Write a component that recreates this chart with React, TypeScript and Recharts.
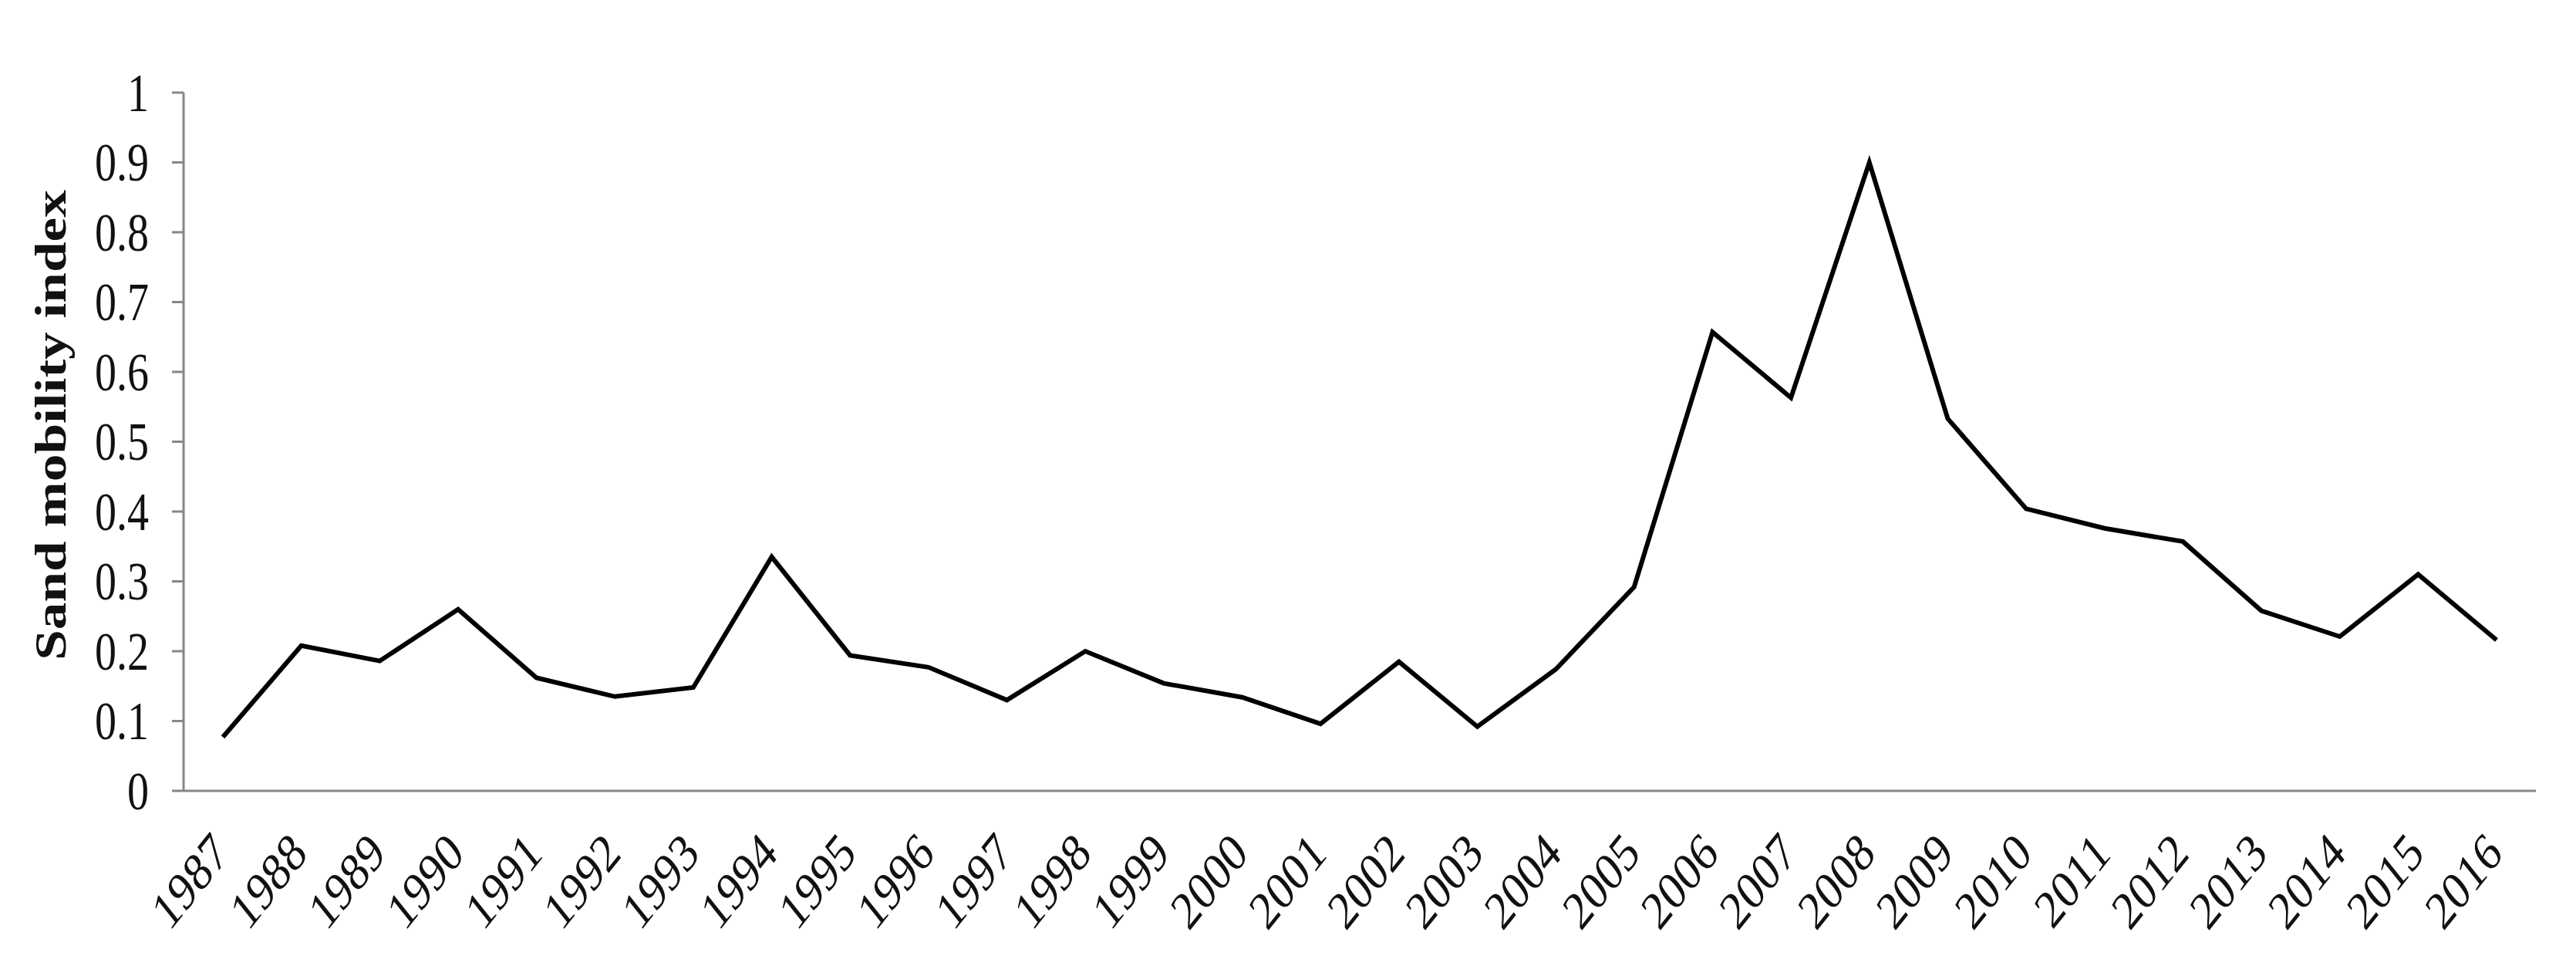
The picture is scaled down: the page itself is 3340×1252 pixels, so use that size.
import React from 'react';
import { Line, LineChart, XAxis, YAxis } from 'recharts';

const years = [
  '1987', '1988', '1989', '1990', '1991', '1992', '1993', '1994', '1995', '1996',
  '1997', '1998', '1999', '2000', '2001', '2002', '2003', '2004', '2005', '2006',
  '2007', '2008', '2009', '2010', '2011', '2012', '2013', '2014', '2015', '2016',
];

const sandMobility = [
  0.077, 0.208, 0.186, 0.26, 0.162, 0.135, 0.148, 0.335, 0.194, 0.177,
  0.13, 0.2, 0.154, 0.134, 0.096, 0.185, 0.092, 0.174, 0.292, 0.657,
  0.563, 0.9, 0.533, 0.404, 0.376, 0.357, 0.258, 0.221, 0.31, 0.216,
];

const yTicks = [0, 0.1, 0.2, 0.3, 0.4, 0.5, 0.6, 0.7, 0.8, 0.9, 1];

const FONT = "'Liberation Serif', 'Times New Roman', serif";
const AXIS_GREY = '#878787';
// the source image is a little stretched vertically, so text gets the same squeeze
const STRETCH = 1.25;

const data = years.map((year, i) => ({ year, value: sandMobility[i] }));

function YTick({ x, y, payload }: any) {
  const v = payload.value as number;
  const label = v === 0 || v === 1 ? String(v) : v.toFixed(1);
  return (
    <text
      transform={`translate(${x},${y}) scale(1,${STRETCH})`}
      textAnchor="end"
      dy="0.34em"
      fontFamily={FONT}
      fontSize={56}
      fill="#111"
    >
      {label}
    </text>
  );
}

function XTick({ x, y, payload }: any) {
  return (
    <text
      transform={`translate(${x + 10},${y + 84}) scale(1,${STRETCH}) rotate(-45)`}
      textAnchor="end"
      fontFamily={FONT}
      fontSize={56}
      fill="#111"
    >
      {payload.value}
    </text>
  );
}

function YTitle() {
  return (
    <text
      transform={`translate(66,551) scale(1,${STRETCH}) rotate(-90)`}
      textAnchor="middle"
      dy="0.34em"
      fontFamily={FONT}
      fontSize={57}
      fontWeight="bold"
      fill="#111"
    >
      Sand mobility index
    </text>
  );
}

export default function App() {
  return (
    <div style={{ position: 'absolute', left: 0, top: 0, background: '#fff' }}>
      <LineChart
        width={3340}
        height={1252}
        data={data}
        margin={{ top: 120, right: 52, bottom: 0, left: 0 }}
      >
        <XAxis
          dataKey="year"
          height={227}
          padding={{ left: 51, right: 51 }}
          interval={0}
          tickLine={false}
          tickSize={0}
          tickMargin={0}
          axisLine={{ stroke: AXIS_GREY, strokeWidth: 3 }}
          tick={<XTick />}
        />
        <YAxis
          width={238}
          domain={[0, 1]}
          ticks={yTicks}
          interval={0}
          tickSize={15}
          tickMargin={30}
          axisLine={{ stroke: AXIS_GREY, strokeWidth: 3 }}
          tickLine={{ stroke: AXIS_GREY, strokeWidth: 3 }}
          tick={<YTick />}
          label={<YTitle />}
        />
        <Line
          type="linear"
          dataKey="value"
          stroke="#000"
          strokeWidth={6}
          dot={false}
          isAnimationActive={false}
        />
      </LineChart>
    </div>
  );
}
